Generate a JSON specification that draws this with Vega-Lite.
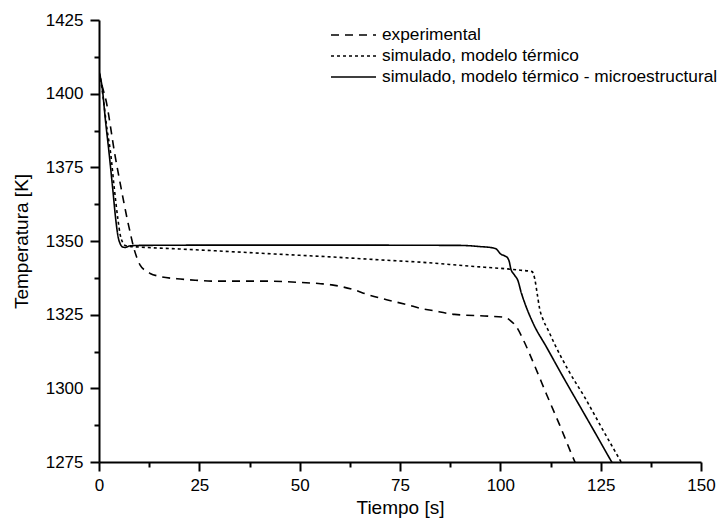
{
  "$schema": "https://vega.github.io/schema/vega-lite/v6.json",
  "width": 602,
  "height": 442,
  "autosize": {"type": "none"},
  "padding": {"left": 99, "top": 20, "right": 27, "bottom": 69},
  "background": "white",
  "config": {
    "view": {"stroke": null},
    "font": "Liberation Sans",
    "axis": {
      "grid": false,
      "ticks": true,
      "domainColor": "black",
      "domainWidth": 2,
      "tickColor": "black",
      "tickOpacity": 1,
      "tickWidth": 2,
      "labelColor": "black",
      "labelFont": "Liberation Sans",
      "labelFontSize": 17,
      "titleColor": "black",
      "titleFont": "Liberation Sans",
      "titleFontSize": 19,
      "titleFontWeight": "normal",
      "labelOverlap": false,
      "labelFlush": false
    }
  },
  "data": {
    "values": [
      {"serie": "simulado, modelo térmico - microestructural", "t": 0, "T": 1407.5},
      {"serie": "simulado, modelo térmico - microestructural", "t": 0.8, "T": 1402},
      {"serie": "simulado, modelo térmico - microestructural", "t": 1.6, "T": 1391},
      {"serie": "simulado, modelo térmico - microestructural", "t": 2.5, "T": 1380},
      {"serie": "simulado, modelo térmico - microestructural", "t": 3.4, "T": 1368},
      {"serie": "simulado, modelo térmico - microestructural", "t": 4.2, "T": 1357},
      {"serie": "simulado, modelo térmico - microestructural", "t": 4.75, "T": 1351.5},
      {"serie": "simulado, modelo térmico - microestructural", "t": 5.3, "T": 1349},
      {"serie": "simulado, modelo térmico - microestructural", "t": 6, "T": 1347.9},
      {"serie": "simulado, modelo térmico - microestructural", "t": 6.6, "T": 1347.8},
      {"serie": "simulado, modelo térmico - microestructural", "t": 7.5, "T": 1348.3},
      {"serie": "simulado, modelo térmico - microestructural", "t": 10, "T": 1348.5},
      {"serie": "simulado, modelo térmico - microestructural", "t": 30, "T": 1348.6},
      {"serie": "simulado, modelo térmico - microestructural", "t": 60, "T": 1348.6},
      {"serie": "simulado, modelo térmico - microestructural", "t": 90, "T": 1348.5},
      {"serie": "simulado, modelo térmico - microestructural", "t": 95, "T": 1348.1},
      {"serie": "simulado, modelo térmico - microestructural", "t": 98, "T": 1347.7},
      {"serie": "simulado, modelo térmico - microestructural", "t": 99, "T": 1347.3},
      {"serie": "simulado, modelo térmico - microestructural", "t": 99.5, "T": 1346.5},
      {"serie": "simulado, modelo térmico - microestructural", "t": 99.9, "T": 1345.8},
      {"serie": "simulado, modelo térmico - microestructural", "t": 101, "T": 1345},
      {"serie": "simulado, modelo térmico - microestructural", "t": 101.8, "T": 1344.3},
      {"serie": "simulado, modelo térmico - microestructural", "t": 102.3, "T": 1342.6},
      {"serie": "simulado, modelo térmico - microestructural", "t": 102.6, "T": 1340.6},
      {"serie": "simulado, modelo térmico - microestructural", "t": 103.5, "T": 1338.5},
      {"serie": "simulado, modelo térmico - microestructural", "t": 104.4, "T": 1336.5},
      {"serie": "simulado, modelo térmico - microestructural", "t": 105.2, "T": 1332.5},
      {"serie": "simulado, modelo térmico - microestructural", "t": 106.1, "T": 1328.9},
      {"serie": "simulado, modelo térmico - microestructural", "t": 108.2, "T": 1322},
      {"serie": "simulado, modelo térmico - microestructural", "t": 111.5, "T": 1314},
      {"serie": "simulado, modelo térmico - microestructural", "t": 116, "T": 1303},
      {"serie": "simulado, modelo térmico - microestructural", "t": 120, "T": 1293.5},
      {"serie": "simulado, modelo térmico - microestructural", "t": 124, "T": 1284},
      {"serie": "simulado, modelo térmico - microestructural", "t": 127.75, "T": 1275},
      {"serie": "simulado, modelo térmico - microestructural", "t": 128.3, "T": 1273.7},

      {"serie": "simulado, modelo térmico", "t": 0, "T": 1407},
      {"serie": "simulado, modelo térmico", "t": 0.5, "T": 1404},
      {"serie": "simulado, modelo térmico", "t": 1, "T": 1399},
      {"serie": "simulado, modelo térmico", "t": 2, "T": 1388},
      {"serie": "simulado, modelo térmico", "t": 2.9, "T": 1379.8},
      {"serie": "simulado, modelo térmico", "t": 3.8, "T": 1368},
      {"serie": "simulado, modelo térmico", "t": 4.75, "T": 1357},
      {"serie": "simulado, modelo térmico", "t": 5.3, "T": 1352},
      {"serie": "simulado, modelo térmico", "t": 5.9, "T": 1349.5},
      {"serie": "simulado, modelo térmico", "t": 6.5, "T": 1348.5},
      {"serie": "simulado, modelo térmico", "t": 7.5, "T": 1348.2},
      {"serie": "simulado, modelo térmico", "t": 9.4, "T": 1348},
      {"serie": "simulado, modelo térmico", "t": 20, "T": 1347.3},
      {"serie": "simulado, modelo térmico", "t": 32.75, "T": 1346.4},
      {"serie": "simulado, modelo térmico", "t": 45, "T": 1345.5},
      {"serie": "simulado, modelo térmico", "t": 57.75, "T": 1344.6},
      {"serie": "simulado, modelo térmico", "t": 70, "T": 1343.6},
      {"serie": "simulado, modelo térmico", "t": 80.25, "T": 1342.8},
      {"serie": "simulado, modelo térmico", "t": 92, "T": 1341.5},
      {"serie": "simulado, modelo térmico", "t": 102.75, "T": 1340.4},
      {"serie": "simulado, modelo térmico", "t": 105, "T": 1340.1},
      {"serie": "simulado, modelo térmico", "t": 107.9, "T": 1339.6},
      {"serie": "simulado, modelo térmico", "t": 108.6, "T": 1337},
      {"serie": "simulado, modelo térmico", "t": 109.2, "T": 1332},
      {"serie": "simulado, modelo térmico", "t": 109.8, "T": 1327},
      {"serie": "simulado, modelo térmico", "t": 110.6, "T": 1323.5},
      {"serie": "simulado, modelo térmico", "t": 111.9, "T": 1319.8},
      {"serie": "simulado, modelo térmico", "t": 113.6, "T": 1314.8},
      {"serie": "simulado, modelo térmico", "t": 117, "T": 1306},
      {"serie": "simulado, modelo térmico", "t": 121, "T": 1297},
      {"serie": "simulado, modelo térmico", "t": 125.5, "T": 1286},
      {"serie": "simulado, modelo térmico", "t": 130.1, "T": 1275},
      {"serie": "simulado, modelo térmico", "t": 130.6, "T": 1273.8},

      {"serie": "experimental", "t": 0, "T": 1407.5},
      {"serie": "experimental", "t": 0.25, "T": 1405.7},
      {"serie": "experimental", "t": 1.9, "T": 1396.7},
      {"serie": "experimental", "t": 3.9, "T": 1379.8},
      {"serie": "experimental", "t": 5.5, "T": 1368},
      {"serie": "experimental", "t": 7.1, "T": 1357},
      {"serie": "experimental", "t": 8, "T": 1351.5},
      {"serie": "experimental", "t": 8.6, "T": 1348},
      {"serie": "experimental", "t": 9.4, "T": 1344.5},
      {"serie": "experimental", "t": 10.25, "T": 1341.8},
      {"serie": "experimental", "t": 11.5, "T": 1340},
      {"serie": "experimental", "t": 12.75, "T": 1339},
      {"serie": "experimental", "t": 15, "T": 1338},
      {"serie": "experimental", "t": 19.4, "T": 1337.2},
      {"serie": "experimental", "t": 24, "T": 1336.7},
      {"serie": "experimental", "t": 28, "T": 1336.4},
      {"serie": "experimental", "t": 35, "T": 1336.4},
      {"serie": "experimental", "t": 41, "T": 1336.4},
      {"serie": "experimental", "t": 49.4, "T": 1336},
      {"serie": "experimental", "t": 55.25, "T": 1335.5},
      {"serie": "experimental", "t": 58, "T": 1335.1},
      {"serie": "experimental", "t": 63.6, "T": 1333.4},
      {"serie": "experimental", "t": 67, "T": 1331.8},
      {"serie": "experimental", "t": 71.9, "T": 1330},
      {"serie": "experimental", "t": 77, "T": 1328.3},
      {"serie": "experimental", "t": 80.25, "T": 1327.1},
      {"serie": "experimental", "t": 82.75, "T": 1326.5},
      {"serie": "experimental", "t": 88.6, "T": 1325.1},
      {"serie": "experimental", "t": 96.9, "T": 1324.5},
      {"serie": "experimental", "t": 101.1, "T": 1324.1},
      {"serie": "experimental", "t": 102.5, "T": 1323},
      {"serie": "experimental", "t": 104, "T": 1320.9},
      {"serie": "experimental", "t": 105.7, "T": 1316.5},
      {"serie": "experimental", "t": 108.6, "T": 1307.5},
      {"serie": "experimental", "t": 111.5, "T": 1298},
      {"serie": "experimental", "t": 114.8, "T": 1287.5},
      {"serie": "experimental", "t": 118.6, "T": 1275},
      {"serie": "experimental", "t": 119, "T": 1273.8}
    ]
  },
  "layer": [
    {
      "mark": {"type": "line", "clip": true, "color": "black", "strokeWidth": 1.6, "interpolate": "monotone"},
      "encoding": {
        "x": {
          "field": "t",
          "type": "quantitative",
          "scale": {"domain": [0, 150], "nice": false},
          "axis": {
            "orient": "bottom",
            "title": "Tiempo [s]",
            "values": [0, 25, 50, 75, 100, 125, 150],
            "format": "d",
            "tickSize": 9,
            "labelPadding": 6,
            "titlePadding": 5
          }
        },
        "y": {
          "field": "T",
          "type": "quantitative",
          "scale": {"domain": [1275, 1425], "nice": false, "zero": false},
          "axis": {
            "orient": "left",
            "title": "Temperatura [K]",
            "values": [1275, 1300, 1325, 1350, 1375, 1400, 1425],
            "format": "d",
            "tickSize": 9,
            "labelPadding": 7,
            "titlePadding": 14
          }
        },
        "strokeDash": {
          "field": "serie",
          "type": "nominal",
          "scale": {
            "domain": ["experimental", "simulado, modelo térmico", "simulado, modelo térmico - microestructural"],
            "range": [[8, 6], [3, 3], [1, 0]]
          },
          "legend": {
            "title": null,
            "orient": "none",
            "legendX": 244.5,
            "legendY": 5,
            "padding": 0,
            "symbolType": "M-2.5,0H2.5",
            "symbolSize": 324,
            "symbolStrokeWidth": 1.6,
            "symbolStrokeColor": "black",
            "symbolFillColor": "transparent",
            "labelFont": "Liberation Sans",
            "labelFontSize": 17.3,
            "labelColor": "black",
            "labelLimit": 600,
            "labelOffset": 18.5,
            "rowPadding": 2
          }
        }
      }
    },
    {
      "mark": {"type": "line", "clip": true, "opacity": 0},
      "encoding": {
        "x": {
          "field": "t",
          "type": "quantitative",
          "axis": {
            "orient": "bottom",
            "title": null,
            "values": [12.5, 37.5, 62.5, 87.5, 112.5, 137.5],
            "labels": false,
            "domain": false,
            "tickSize": 5
          }
        },
        "y": {
          "field": "T",
          "type": "quantitative",
          "axis": {
            "orient": "left",
            "title": null,
            "values": [1287.5, 1312.5, 1337.5, 1362.5, 1387.5, 1412.5],
            "labels": false,
            "domain": false,
            "tickSize": 5
          }
        },
        "detail": {"field": "serie", "type": "nominal"}
      }
    }
  ],
  "resolve": {"axis": {"x": "independent", "y": "independent"}}
}
